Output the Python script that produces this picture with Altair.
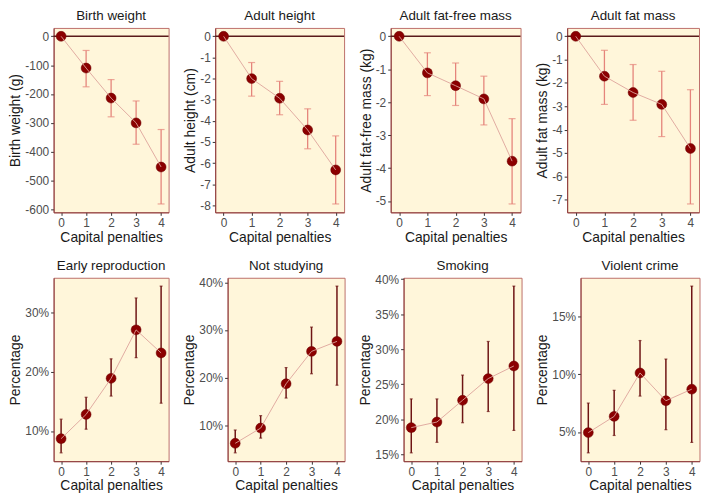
import altair as alt
import pandas as pd

penalties = [0, 1, 2, 3, 4]

titles = ["Birth weight", "Adult height", "Adult fat-free mass", "Adult fat mass",
          "Early reproduction", "Not studying", "Smoking", "Violent crime"]
y_titles = ["Birth weight (g)", "Adult height (cm)", "Adult fat-free mass (kg)", "Adult fat mass (kg)",
            "Percentage", "Percentage", "Percentage", "Percentage"]

birth_weight = [0, -110, -214, -300, -453]
birth_weight_lo = [0, -175, -279, -374, -581]
birth_weight_hi = [0, -49, -150, -224, -323]

adult_height = [0, -2.0, -2.93, -4.43, -6.32]
adult_height_lo = [0, -2.83, -3.71, -5.32, -7.93]
adult_height_hi = [0, -1.24, -2.13, -3.43, -4.71]

fat_free = [0, -1.11, -1.5, -1.9, -3.79]
fat_free_lo = [0, -1.80, -2.10, -2.69, -5.09]
fat_free_hi = [0, -0.5, -0.81, -1.21, -2.50]

fat_mass = [0, -1.71, -2.41, -2.92, -4.81]
fat_mass_lo = [0, -2.92, -3.60, -4.30, -7.19]
fat_mass_hi = [0, -0.60, -1.21, -1.50, -2.29]

early_repro = [8.7, 12.8, 18.9, 27.1, 23.2]
early_repro_lo = [6.3, 10.3, 15.9, 22.4, 14.7]
early_repro_hi = [12.0, 15.7, 22.2, 32.5, 34.5]

not_studying = [6.2, 9.4, 18.7, 25.5, 27.6]
not_studying_lo = [4.2, 7.3, 15.7, 20.8, 18.4]
not_studying_hi = [9.0, 12.0, 22.1, 30.6, 39.2]

smoking = [18.8, 19.6, 22.7, 25.8, 27.6]
smoking_lo = [15.2, 16.7, 19.5, 21.1, 18.4]
smoking_hi = [22.9, 22.9, 26.3, 31.1, 39.0]

violent = [4.95, 6.35, 10.1, 7.7, 8.7]
violent_lo = [3.2, 4.7, 8.1, 5.2, 4.1]
violent_hi = [7.5, 8.6, 12.9, 11.3, 17.6]

tick_values = [
    [0, -100, -200, -300, -400, -500, -600],
    [0, -1, -2, -3, -4, -5, -6, -7, -8],
    [0, -1, -2, -3, -4, -5],
    [0, -1, -2, -3, -4, -5, -6, -7],
    [10, 20, 30],
    [10, 20, 30, 40],
    [15, 20, 25, 30, 35, 40],
    [5, 10, 15],
]

series = [
    (birth_weight, birth_weight_lo, birth_weight_hi),
    (adult_height, adult_height_lo, adult_height_hi),
    (fat_free, fat_free_lo, fat_free_hi),
    (fat_mass, fat_mass_lo, fat_mass_hi),
    (early_repro, early_repro_lo, early_repro_hi),
    (not_studying, not_studying_lo, not_studying_hi),
    (smoking, smoking_lo, smoking_hi),
    (violent, violent_lo, violent_hi),
]

widths = [116, 130, 131, 133, 116, 118, 119, 120]
heights = [186, 185]
POINT = "#8B0000"
LINE = "#DDA39B"
ERR_TOP = "#E5847B"
ERR_BOT = "#6E1414"
FONT = "Liberation Sans"


def panel(i):
    mean, lo, hi = series[i]
    df = pd.DataFrame({"x": penalties, "y": mean, "lo": lo, "hi": hi})
    top = i < 4
    dmin, dmax = min(lo + mean), max(hi + mean)
    pad = (dmax - dmin) * 0.05
    label_expr = "'' + datum.value" if top else "datum.value + '%'"
    xscale = alt.Scale(domain=[-0.3, 4.3], nice=False, zero=False)
    yscale = alt.Scale(domain=[dmin - pad, dmax + pad], nice=False, zero=False)
    xaxis = alt.Axis(values=penalties, title="Capital penalties", labelFlush=False)
    yaxis = alt.Axis(values=tick_values[i], title=y_titles[i], labelExpr=label_expr)
    xs = alt.X("x:Q", scale=xscale, axis=xaxis)
    ys = alt.Y("y:Q", scale=yscale, axis=yaxis)
    base = alt.Chart(df)
    errc = ERR_TOP if top else ERR_BOT
    errd = base.transform_filter("datum.lo != datum.hi")
    rule = errd.mark_rule(color=errc, strokeWidth=1.3 if top else 1.5).encode(
        x=xs, y=alt.Y("lo:Q", scale=yscale, axis=yaxis), y2="hi:Q")
    capsize = 7 if top else 3
    cap1 = errd.mark_tick(color=errc, orient="horizontal", size=capsize, thickness=1.2).encode(
        x=xs, y=alt.Y("lo:Q", scale=yscale, axis=yaxis))
    cap2 = errd.mark_tick(color=errc, orient="horizontal", size=capsize, thickness=1.2).encode(
        x=xs, y=alt.Y("hi:Q", scale=yscale, axis=yaxis))
    pts = base.mark_point(filled=True, size=100, color=POINT, opacity=1,
                          stroke="#6A0000", strokeWidth=0.5).encode(x=xs, y=ys)
    line = base.mark_line(color=LINE, strokeWidth=0.9).encode(x=xs, y=ys)
    layers = [rule, cap1, cap2]
    if top:
        zero = alt.Chart(pd.DataFrame({"z": [0]})).mark_rule(color="#5A1A1A", strokeWidth=1.5).encode(
            y=alt.Y("z:Q", scale=yscale, axis=yaxis))
        layers.append(zero)
    layers += [pts, line]
    w = widths[i]
    title_text = alt.Chart(pd.DataFrame({"t": [titles[i]]})).mark_text(
        baseline="bottom", align="center", font=FONT, fontSize=13.5, color="#1A1A1A"
    ).encode(text="t:N", x=alt.value(w / 2), y=alt.value(-5))
    layers.append(title_text)
    return alt.layer(*layers).properties(width=w, height=heights[0] if top else heights[1])


top_row = alt.hconcat(*[panel(i) for i in range(4)], spacing=47, bounds="flush")
bottom_row = alt.hconcat(*[panel(i) for i in range(4, 8)], spacing=59.5, bounds="flush")

chart = alt.vconcat(top_row, bottom_row, spacing=13).properties(
    padding={"left": 0, "top": -2, "right": 0, "bottom": 0}
).configure_view(
    fill="#FFF6DA", stroke="#BD6F6A", strokeWidth=1
).configure_axis(
    labelFont=FONT, titleFont=FONT,
    labelColor="#4D4D4D", labelFontSize=12, labelOverlap=False,
    titleColor="#1A1A1A", titleFontSize=14, titleFontWeight="normal",
    tickColor="#333333", tickSize=3, domainColor="#8B3A3A", domainWidth=1,
    grid=False, labelPadding=2, titlePadding=2
)

chart.save("out.html", embed_options={"renderer": "svg", "actions": False})
